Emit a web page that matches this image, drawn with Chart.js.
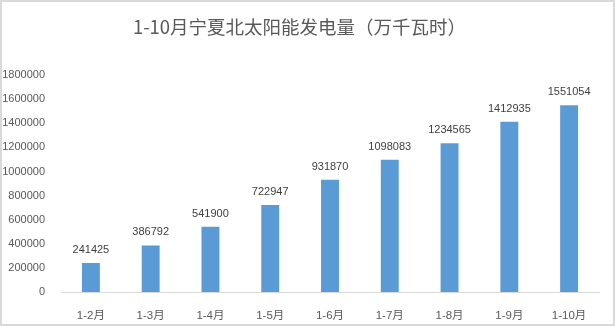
<!DOCTYPE html>
<html>
<head>
<meta charset="utf-8">
<script src="https://cdn.jsdelivr.net/npm/chart.js@4/dist/chart.umd.min.js"></script>
<style>
  html, body { margin: 0; padding: 0; background: #fff; }
  #wrap { position: relative; width: 615px; height: 326px; }
  #frame { position: absolute; left: 0; top: 0; width: 615px; height: 326px;
           box-sizing: border-box; border: 2px solid #d9d9d9; pointer-events: none; }
</style>
</head>
<body>
<div id="wrap">
  <canvas id="solarChart" width="615" height="326"></canvas>
  <div id="frame"></div>
</div>
<script>
// data
const months = ['1-2月', '1-3月', '1-4月', '1-5月', '1-6月', '1-7月', '1-8月', '1-9月', '1-10月'];
const output = [241425, 386792, 541900, 722947, 931870, 1098083, 1234565, 1412935, 1551054];
const yMin = 0;
const yMax = 1800000;
const yStep = 200000;

const labelFont = '"Liberation Sans", "Noto Sans CJK SC", sans-serif';

// numbers above each bar
const barValues = {
    id: 'barValues',
    afterDatasetsDraw(chart) {
        const ctx = chart.ctx;
        const meta = chart.getDatasetMeta(0);
        ctx.save();
        ctx.font = '11px ' + labelFont;
        ctx.fillStyle = '#404040';
        ctx.textAlign = 'center';
        ctx.textBaseline = 'middle';
        meta.data.forEach((bar, i) => {
            ctx.fillText(String(chart.data.datasets[0].data[i]), bar.x, bar.y - 13);
        });
        ctx.restore();
    }
};

const ctx = document.getElementById('solarChart').getContext('2d');
const solarChart = new Chart(ctx, {
    type: 'bar',
    data: {
        labels: months,
        datasets: [{
            data: output,
            backgroundColor: '#5b9bd5',
            borderWidth: 0,
            categoryPercentage: 1,
            barPercentage: 0.3
        }]
    },
    options: {
        responsive: false,
        animation: false,
        layout: { padding: { left: 0, right: 16, top: 0, bottom: 0 } },
        plugins: {
            legend: { display: false },
            tooltip: { enabled: false },
            title: {
                display: true,
                text: '1-10月宁夏北太阳能发电量（万千瓦时）',
                color: '#595959',
                font: { family: '"Noto Sans CJK SC", sans-serif', size: 18.5, weight: 'normal' },
                padding: { top: 16, bottom: 37 }
            }
        },
        scales: {
            x: {
                grid: { display: false },
                border: { display: true, color: '#d9d9d9', width: 1 },
                ticks: { color: '#595959', font: { family: labelFont, size: 11.5 }, padding: 9 },
                afterFit: s => { s.height = 34; }
            },
            y: {
                min: yMin,
                max: yMax,
                grid: { display: false },
                border: { display: false },
                ticks: {
                    stepSize: yStep,
                    color: '#595959',
                    font: { family: labelFont, size: 11 },
                    padding: 8,
                    callback: v => String(v)
                },
                afterFit: s => { s.width = 61; }
            }
        }
    },
    plugins: [barValues]
});
</script>
</body>
</html>
